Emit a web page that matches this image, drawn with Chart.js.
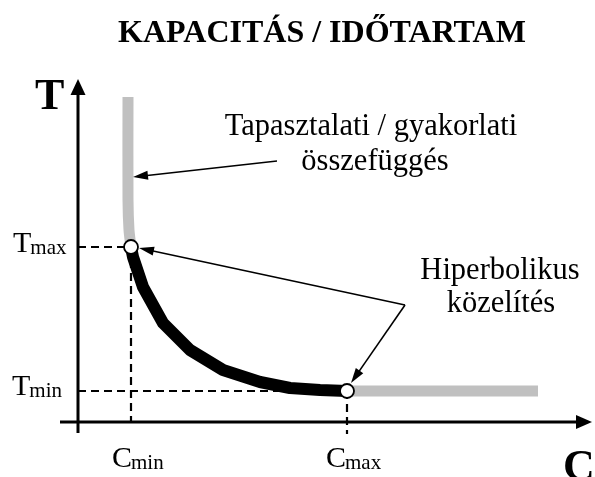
<!DOCTYPE html>
<html>
<head>
<meta charset="utf-8">
<script src="https://cdn.jsdelivr.net/npm/chart.js@4/dist/chart.umd.min.js"></script>
<style>
  html, body { margin: 0; padding: 0; background: #fff; }
  #wrap { width: 595px; height: 477px; }
</style>
</head>
<body>
<div id="wrap"><canvas id="chart" width="595" height="477"></canvas></div>
<script>
// capacity / duration values (C along x, T along y)
var C_MIN = 5.3, C_MAX = 26.9, T_MIN = 3.1, T_MAX = 17.5;

// hyperbolic approximation between (Cmin, Tmax) and (Cmax, Tmin)
var hypC = [5.3, 5.5, 6.5, 8.5, 11.2, 14.5, 18.2, 21.2, 24.2, 26.9];
var hypT = [17.5, 16.5, 13.5, 9.9, 7.2, 5.2, 4.0, 3.4, 3.2, 3.1];

// empirical curve: steep branch above Tmax, flat branch past Cmax
var empUpperC = [5.0, 5.0, 5.1, 5.3];
var empUpperT = [32.5, 22.2, 19.2, 17.5];
var empLowerC = [26.9, 46.0];
var empLowerT = [3.1, 3.1];

var TITLE = 'KAPACITÁS / IDŐTARTAM';
var NOTE_EMP = ['Tapasztalati / gyakorlati', 'összefüggés'];
var NOTE_HYP = ['Hiperbolikus', 'közelítés'];

function pts(xs, ys) {
    var out = [];
    for (var i = 0; i < xs.length; i++) out.push({x: xs[i], y: ys[i]});
    return out;
}

var SERIF = '"Liberation Serif", "Times New Roman", serif';

function arrow(ctx, sx, sy, x1, y1, x2, y2, len, half, width) {
    var a = sx.getPixelForValue(x1), b = sy.getPixelForValue(y1);
    var c = sx.getPixelForValue(x2), d = sy.getPixelForValue(y2);
    var ang = Math.atan2(d - b, c - a);
    ctx.save();
    ctx.strokeStyle = '#000';
    ctx.fillStyle = '#000';
    ctx.lineWidth = width;
    ctx.beginPath();
    ctx.moveTo(a, b);
    ctx.lineTo(c - Math.cos(ang) * len * 0.8, d - Math.sin(ang) * len * 0.8);
    ctx.stroke();
    ctx.translate(c, d);
    ctx.rotate(ang);
    ctx.beginPath();
    ctx.moveTo(0, 0);
    ctx.lineTo(-len, -half);
    ctx.lineTo(-len, half);
    ctx.closePath();
    ctx.fill();
    ctx.restore();
}

// letter with a subscript, e.g. T + max
function subLabel(ctx, sx, sy, x, y, main, sub) {
    var px = sx.getPixelForValue(x), py = sy.getPixelForValue(y);
    ctx.font = '30px ' + SERIF;
    ctx.textAlign = 'left';
    ctx.textBaseline = 'alphabetic';
    ctx.fillText(main, px, py);
    var w = ctx.measureText(main).width;
    ctx.font = '21px ' + SERIF;
    ctx.fillText(sub, px + w - 1, py + 2);
}

function textAt(ctx, sx, sy, x, y, str, font, align) {
    ctx.font = font;
    ctx.textAlign = align || 'center';
    ctx.textBaseline = 'alphabetic';
    ctx.fillText(str, sx.getPixelForValue(x), sy.getPixelForValue(y));
}

var axesPlugin = {
    id: 'axes',
    beforeDatasetsDraw: function(chart) {
        var ctx = chart.ctx, sx = chart.scales.x, sy = chart.scales.y;
        arrow(ctx, sx, sy, -1.8, 0, 51.4, 0, 16, 7, 3);
        arrow(ctx, sx, sy, 0, -1.1, 0, 34.3, 16, 7.5, 3);
    }
};

var notesPlugin = {
    id: 'notes',
    afterDraw: function(chart) {
        var ctx = chart.ctx, sx = chart.scales.x, sy = chart.scales.y;
        ctx.save();
        ctx.fillStyle = '#000';

        // pointer arrows
        arrow(ctx, sx, sy, 19.9, 26.1, 5.5, 24.5, 15, 4.5, 1.6);
        arrow(ctx, sx, sy, 32.7, 11.7, 6.1, 17.4, 15, 4.5, 1.6);
        arrow(ctx, sx, sy, 32.7, 11.7, 27.3, 3.9, 15, 4.5, 1.6);

        textAt(ctx, sx, sy, 24.4, 38.0, TITLE, 'bold 32px ' + SERIF);
        textAt(ctx, sx, sy, -4.3, 31.3, 'T', 'bold 44px ' + SERIF, 'left');
        textAt(ctx, sx, sy, 48.5, -5.8, 'C', 'bold 44px ' + SERIF, 'left');

        textAt(ctx, sx, sy, 29.3, 28.7, NOTE_EMP[0], '30.5px ' + SERIF);
        textAt(ctx, sx, sy, 29.7, 25.2, NOTE_EMP[1], '30.5px ' + SERIF);
        textAt(ctx, sx, sy, 42.2, 14.3, NOTE_HYP[0], '30.5px ' + SERIF);
        textAt(ctx, sx, sy, 42.3, 11.0, NOTE_HYP[1], '30.5px ' + SERIF);

        subLabel(ctx, sx, sy, -6.5, 17.0, 'T', 'max');
        subLabel(ctx, sx, sy, -6.6, 2.7, 'T', 'min');
        subLabel(ctx, sx, sy, 3.4, -4.5, 'C', 'min');
        subLabel(ctx, sx, sy, 24.8, -4.5, 'C', 'max');
        ctx.restore();
    }
};

var dashed = {
    showLine: true, borderColor: '#000', borderWidth: 2.2, borderDash: [8, 5],
    pointRadius: 0, fill: false, order: 5
};

new Chart(document.getElementById('chart'), {
    type: 'scatter',
    data: {
        datasets: [
            Object.assign({data: pts([0, C_MIN], [T_MAX, T_MAX])}, dashed),
            Object.assign({data: pts([C_MIN, C_MIN], [T_MAX, 0])}, dashed),
            Object.assign({data: pts([0, C_MAX], [T_MIN, T_MIN])}, dashed),
            Object.assign({data: pts([C_MAX, C_MAX], [T_MIN, -1.2])}, dashed),
            {
                data: pts(empUpperC, empUpperT), showLine: true, borderColor: '#c0c0c0',
                borderWidth: 11, pointRadius: 0, tension: 0.3, order: 4
            },
            {
                data: pts(empLowerC, empLowerT), showLine: true, borderColor: '#c0c0c0',
                borderWidth: 11, pointRadius: 0, order: 4
            },
            {
                data: pts(hypC, hypT), showLine: true, borderColor: '#000',
                borderWidth: 12, borderJoinStyle: 'round', pointRadius: 0, order: 3
            },
            {
                data: pts([C_MIN, C_MAX], [T_MAX, T_MIN]), showLine: false,
                pointRadius: 7, pointBackgroundColor: '#fff', pointBorderColor: '#000',
                pointBorderWidth: 1.8, order: 1
            }
        ]
    },
    options: {
        responsive: false,
        animation: false,
        devicePixelRatio: 1,
        layout: {padding: 0, autoPadding: false},
        plugins: {legend: {display: false}, tooltip: {enabled: false}, title: {display: false}},
        scales: {
            x: {type: 'linear', min: -7.8, max: 51.7, display: false},
            y: {type: 'linear', min: -5.5, max: 42.2, display: false}
        }
    },
    plugins: [axesPlugin, notesPlugin]
});
</script>
</body>
</html>
